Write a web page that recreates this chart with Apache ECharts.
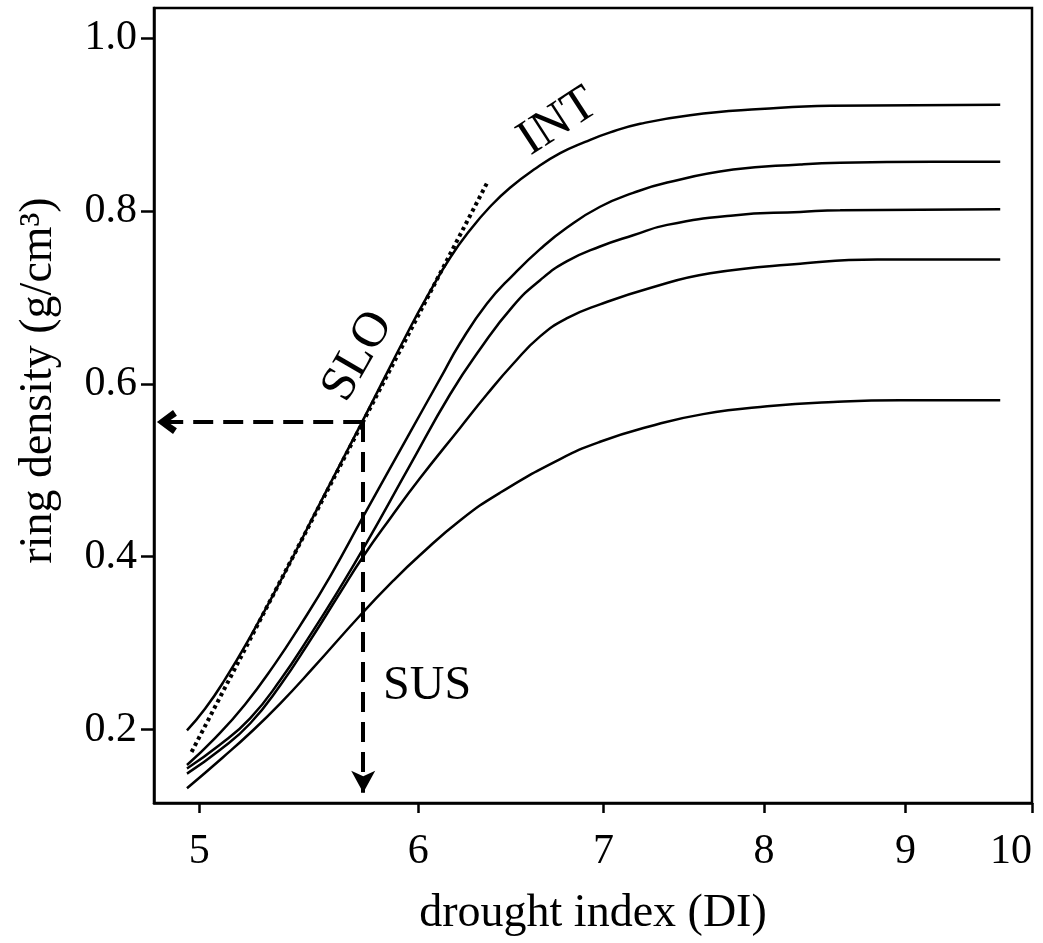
<!DOCTYPE html>
<html><head><meta charset="utf-8">
<script src="https://cdn.jsdelivr.net/npm/echarts@6/dist/echarts.min.js"></script>
<style>html,body{margin:0;padding:0;background:#fff}#c{width:1043px;height:943px}</style>
</head><body><div id="c"></div>
<script>
// ---- data ----
const xTicks = [5, 6, 7, 8, 9, 10];
const yTicks = [0.2, 0.4, 0.6, 0.8, 1.0];

const c1x = [4.949,5.024,5.108,5.216,5.348,5.529,5.730,5.959,6.059,6.161,6.264,6.369,6.476,6.613,6.752,6.894,7.039,7.217,7.523,7.975,8.454,9.739];
const c1y = [0.199,0.224,0.258,0.307,0.371,0.462,0.558,0.665,0.707,0.746,0.778,0.805,0.827,0.849,0.867,0.880,0.891,0.901,0.911,0.918,0.922,0.923];

const c2x = [4.949,5.066,5.194,5.325,5.437,5.575,5.730,5.959,6.110,6.212,6.353,6.492,6.640,6.791,6.980,7.175,7.381,7.798,8.245,8.524,9.211,9.739];
const c2y = [0.159,0.190,0.229,0.276,0.320,0.377,0.446,0.544,0.606,0.647,0.693,0.726,0.756,0.781,0.805,0.821,0.833,0.848,0.854,0.856,0.857,0.857];

const c3x = [4.949,5.085,5.216,5.348,5.483,5.621,5.740,5.959,6.161,6.316,6.492,6.640,6.791,6.980,7.175,7.381,7.798,8.245,8.524,9.739];
const c3y = [0.155,0.182,0.213,0.257,0.309,0.364,0.413,0.506,0.588,0.640,0.690,0.720,0.742,0.759,0.772,0.784,0.795,0.799,0.801,0.802];

const c4x = [4.949,5.085,5.216,5.348,5.483,5.621,5.730,5.860,6.009,6.212,6.353,6.492,6.640,6.791,6.980,7.277,7.650,8.245,8.791,9.739];
const c4y = [0.149,0.176,0.207,0.251,0.303,0.358,0.400,0.444,0.491,0.549,0.588,0.623,0.655,0.676,0.692,0.711,0.728,0.739,0.744,0.744];

const c5x = [4.949,5.100,5.216,5.348,5.496,5.716,5.875,6.009,6.212,6.422,6.752,6.980,7.277,7.605,8.022,8.475,8.961,9.739];
const c5y = [0.132,0.168,0.196,0.230,0.271,0.332,0.372,0.402,0.442,0.474,0.513,0.533,0.551,0.565,0.574,0.579,0.581,0.581];

// tangent (dotted)
const tanX = [4.968, 6.352];
const tanY = [0.174, 0.832];

// dashed arrows: corner point, horizontal end, vertical end
const arrowCorner = [5.731, 0.556];
const arrowLeftEnd = [4.867, 0.556];
const arrowDownEnd = [5.731, 0.127];

// annotation labels
const noteText = ['INT', 'SLO', 'SUS'];
const noteX = [6.740, 5.707, 6.044];
const noteY = [0.903, 0.632, 0.250];
const noteRot = [33, 60, 0];
const noteSize = [50, 50, 48];

// ---- chart ----
const FONT = 'Liberation Serif';
const zip = (xs, ys) => xs.map((x, i) => [x, ys[i]]);
const curves = [[c1x, c1y], [c2x, c2y], [c3x, c3y], [c4x, c4y], [c5x, c5y]];

const chevron = 'path://M5,0 L10,7.5 L7.6,9.3 L5,5 L2.4,9.3 L0,7.5 Z';

const series = curves.map((c, i) => ({
  type: 'line',
  name: 'c' + (i + 1),
  data: zip(c[0], c[1]),
  showSymbol: false,
  smooth: 0.5,
  lineStyle: { color: '#000', width: 2.5 },
  silent: true
}));

series.push({
  type: 'line',
  name: 'tangent',
  data: zip(tanX, tanY),
  showSymbol: false,
  lineStyle: { color: '#000', width: 4, type: [3.5, 3.5] },
  silent: true,
  markLine: {
    silent: true,
    animation: false,
    label: { show: false },
    lineStyle: { color: '#000', width: 4, type: [20, 10] },
    symbol: ['none', 'none'],
    data: [
      [{ coord: arrowCorner, symbol: 'none' }, { coord: arrowLeftEnd, symbol: chevron, symbolSize: [24, 20] }],
      [{ coord: arrowCorner, symbol: 'none' }, { coord: arrowDownEnd, symbol: 'arrow', symbolSize: [18, 22] }]
    ]
  },
  markPoint: {
    silent: true,
    animation: false,
    symbol: 'circle',
    symbolSize: 1,
    itemStyle: { color: 'rgba(0,0,0,0)' },
    label: { show: true, position: 'inside', color: '#000', fontFamily: FONT, fontSize: 48, formatter: '{b}' },
    data: noteText.map((t, i) => ({ name: t, coord: [noteX[i], noteY[i]], label: { rotate: noteRot[i], fontSize: noteSize[i] } }))
  }
});

const chart = echarts.init(document.getElementById('c'), null, { renderer: 'canvas' });
chart.setOption({
  animation: false,
  backgroundColor: '#fff',
  grid: { left: 154, right: 11, top: 8, bottom: 140, show: true, borderColor: '#000', borderWidth: 2.5, backgroundColor: 'transparent', outerBoundsMode: 'none' },
  xAxis: {
    type: 'log', logBase: 10, min: 4.815, max: 10,
    axisLine: { show: true, lineStyle: { color: '#000', width: 2.5 } },
    axisTick: { show: true, customValues: xTicks, length: 10, lineStyle: { color: '#000', width: 2.5 } },
    minorTick: { show: false },
    splitLine: { show: false },
    axisLabel: { customValues: xTicks, color: '#000', fontFamily: FONT, fontSize: 42, margin: 28, alignMaxLabel: 'right', formatter: v => String(Math.round(v)) },
    name: 'drought index (DI)', nameLocation: 'middle', nameGap: 88,
    nameTextStyle: { color: '#000', fontFamily: FONT, fontSize: 46 }
  },
  yAxis: {
    type: 'value', min: 0.115, max: 1.035,
    axisLine: { show: true, lineStyle: { color: '#000', width: 2.5 } },
    axisTick: { show: true, customValues: yTicks, length: 13, lineStyle: { color: '#000', width: 2.5 } },
    splitLine: { show: false },
    axisLabel: { customValues: yTicks, color: '#000', fontFamily: FONT, fontSize: 42, margin: 17, formatter: v => v.toFixed(1) },
    name: 'ring density (g/cm³)', nameLocation: 'middle', nameGap: 92,
    nameTextStyle: { color: '#000', fontFamily: FONT, fontSize: 46, padding: [0, 0, 0, 50] }
  },
  series: series
});
</script>
</body></html>
